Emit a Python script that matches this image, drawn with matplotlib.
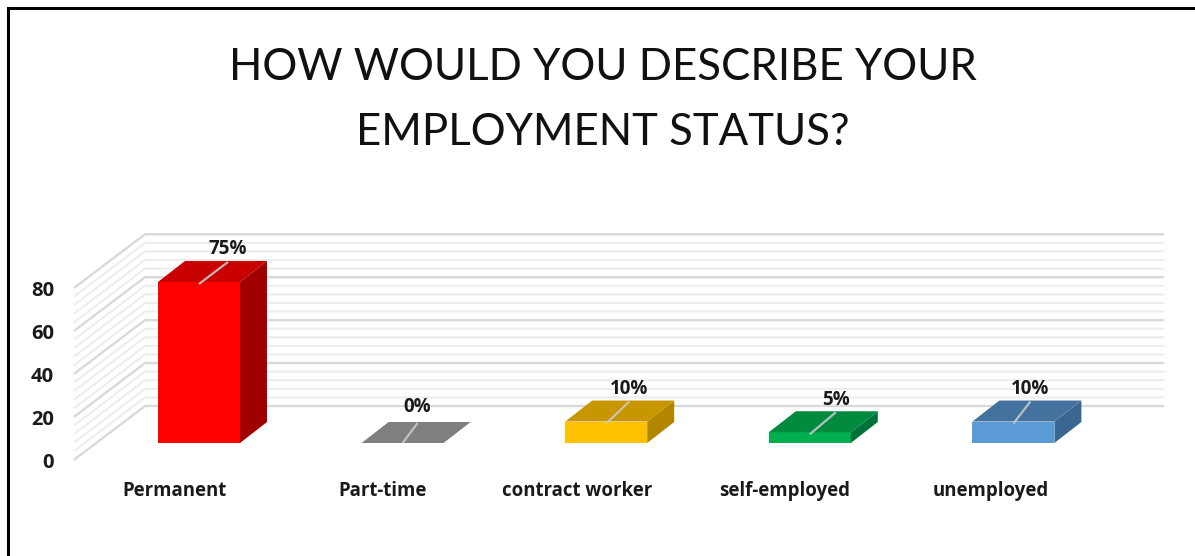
import matplotlib
matplotlib.use("Agg")
import matplotlib.pyplot as plt
from matplotlib.patches import Polygon

categories = ["Permanent", "Part-time", "contract worker", "self-employed", "unemployed"]
values = [75, 0, 10, 5, 10]
value_labels = ["75%", "0%", "10%", "5%", "10%"]
front_colors = ["#FF0000", "#7F7F7F", "#FFC000", "#00B050", "#5B9BD5"]
top_colors = ["#C80000", "#7F7F7F", "#C89600", "#008A3E", "#44729F"]
side_colors = ["#A00000", "#7F7F7F", "#B38600", "#00733A", "#3A6691"]
major_ticks = [0, 20, 40, 60, 80]
minor_ticks = [4, 8, 12, 16, 24, 28, 32, 36, 44, 48, 52, 56, 64, 68, 72, 76]

W, H = 1195, 556
PX_PER_CAT = 203.6
PX_PER_UNIT = 2.147
X0_PX, Y0_PX = 199.0, 443.0

fig = plt.figure(figsize=(W / 100, H / 100), dpi=100, facecolor="white")
ax = fig.add_axes([0, 0, 1, 1])
ax.set_xlim((0 - X0_PX) / PX_PER_CAT, (W - X0_PX) / PX_PER_CAT)
ax.set_ylim((Y0_PX - H) / PX_PER_UNIT, Y0_PX / PX_PER_UNIT)
ax.axis("off")


def dx(px):
    return px / PX_PER_CAT


def dy(px):
    return px / PX_PER_UNIT


# Floor depth of the plot box and of each bar, in pixels
BOX_LEFT = dx(75 - X0_PX)
BOX_BACK = dx(145 - X0_PX)
BOX_RIGHT = dx(1163 - X0_PX)
FRONT_DROP = dy(-16)
BACK_RISE = dy(37)
BAR_HALF = dx(41)
DEPTH_X, DEPTH_Y = dx(27), dy(21)

# Gridlines on the side wall and the back wall
for ticks, color, lw in ((minor_ticks, "#EDEDED", 1.5), (major_ticks, "#D9D9D9", 1.7)):
    for v in ticks:
        ax.plot([BOX_LEFT, BOX_BACK, BOX_RIGHT],
                [v + FRONT_DROP, v + BACK_RISE, v + BACK_RISE],
                color=color, lw=lw, solid_joinstyle="miter", zorder=1)

# Three-dimensional columns: front face, top face, right side face
for i, v in enumerate(values):
    l, r = i - BAR_HALF, i + BAR_HALF
    if v > 0:
        ax.add_patch(Polygon([(l, 0), (r, 0), (r, v), (l, v)], fc=front_colors[i], ec="none", zorder=3))
        ax.add_patch(Polygon([(r, 0), (r + DEPTH_X, DEPTH_Y), (r + DEPTH_X, v + DEPTH_Y), (r, v)],
                             fc=side_colors[i], ec="none", zorder=3))
    ax.add_patch(Polygon([(l, v), (r, v), (r + DEPTH_X, v + DEPTH_Y), (l + DEPTH_X, v + DEPTH_Y)],
                         fc=top_colors[i], ec="none", zorder=3))

# Value labels with their short leader lines
label_shift_px = [29, 15, 23, 26, 17]
for i, (v, text) in enumerate(zip(values, value_labels)):
    lx = i + dx(label_shift_px[i])
    ax.plot([i, lx], [v - dy(2) * (v > 0), v + DEPTH_Y - dy(1)],
            color="#C8C8C8", lw=1.6, alpha=0.9, zorder=4, solid_capstyle="butt")
    ax.text(lx, v + DEPTH_Y + dy(14 if v else 18), text, ha="center", va="center_baseline",
            fontsize=13.5, family="Open Sans", fontweight=700, color="#1a1a1a", zorder=5)

# Value axis labels sit to the left of the side wall
for v in major_ticks:
    ax.text(dx(54 - X0_PX), v + FRONT_DROP - dy(1), str(v), ha="right", va="center_baseline",
            fontsize=14.5, family="Open Sans", fontweight=700, color="#1a1a1a")

# Category labels under the floor
label_centers_px = [175, 383, 577, 785, 991]
for name, cx in zip(categories, label_centers_px):
    ax.text(dx(cx - X0_PX), dy(443 - 496), name, ha="center", va="baseline",
            fontsize=13.4, family="Open Sans", fontweight=700, color="#1a1a1a")

# Title
title_x = dx(603 - X0_PX)
ax.text(title_x, dy(443 - 80), "HOW WOULD YOU DESCRIBE YOUR", ha="center", va="baseline",
        fontsize=31.5, family="Lato", color="#111111")
ax.text(title_x, dy(443 - 145), "EMPLOYMENT STATUS?", ha="center", va="baseline",
        fontsize=31.5, family="Lato", color="#111111")

# Frame: only the left and top edges are visible
ax.plot([dx(8 - X0_PX), dx(8 - X0_PX), dx(W - X0_PX)],
        [dy(443 - H), dy(443 - 8), dy(443 - 8)], color="black", lw=2.2,
        solid_joinstyle="miter", zorder=6)

fig.savefig("out.png", dpi=100, facecolor="white")
